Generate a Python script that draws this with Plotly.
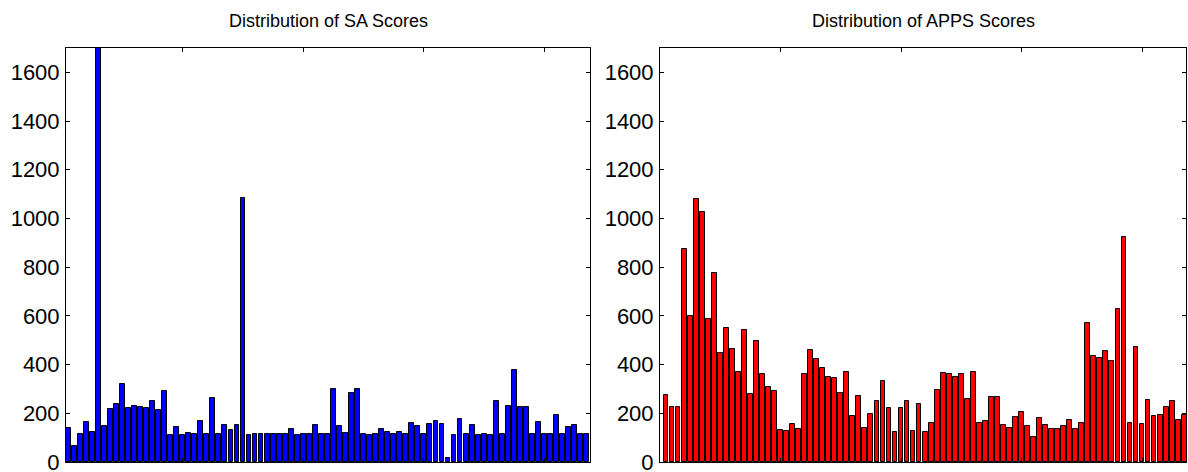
import plotly.graph_objects as go

sa_scores = [139, 67, 115, 163, 123, 1800, 148, 216, 239, 320,
             220, 230, 227, 223, 252, 213, 290, 111, 145, 111,
             119, 115, 167, 115, 263, 113, 154, 131, 154, 1083,
             112, 115, 115, 115, 115, 114, 114, 137, 112, 116,
             115, 153, 114, 114, 300, 148, 119, 283, 298, 115,
             112, 114, 137, 123, 115, 124, 115, 161, 149, 115,
             158, 169, 157, 16, 112, 176, 115, 153, 112, 114,
             112, 249, 114, 231, 379, 226, 224, 114, 165, 115,
             116, 194, 116, 143, 153, 115, 114]

apps_scores = [274, 227, 227, 876, 598, 1079, 1025, 588, 777, 446,
               551, 464, 370, 544, 279, 496, 363, 307, 292, 131,
               128, 157, 137, 362, 460, 423, 385, 348, 345, 285,
               368, 187, 271, 138, 197, 250, 331, 222, 124, 222,
               250, 128, 237, 123, 161, 296, 364, 360, 349, 362,
               259, 370, 161, 167, 265, 265, 152, 138, 183, 204,
               148, 104, 179, 154, 137, 134, 149, 172, 137, 160,
               569, 436, 426, 457, 413, 630, 925, 161, 474, 158,
               255, 190, 193, 224, 252, 171, 194]

sa_x = list(range(1, len(sa_scores) + 1))
apps_x = list(range(1, len(apps_scores) + 1))

y_ticks = [0, 200, 400, 600, 800, 1000, 1200, 1400, 1600]
x_ticks = [20, 40, 60, 80]
titles = ["Distribution of SA Scores", "Distribution of APPS Scores"]

W, H = 1188, 472
FONT = "Liberation Sans, Arial, Helvetica, sans-serif"

fig = go.Figure()
fig.add_trace(go.Bar(x=sa_x, y=sa_scores, width=0.8,
                     marker=dict(color="#0000FF", line=dict(color="black", width=1)),
                     xaxis="x", yaxis="y", showlegend=False))
fig.add_trace(go.Bar(x=apps_x, y=apps_scores, width=0.8,
                     marker=dict(color="#FF0000", line=dict(color="black", width=1)),
                     xaxis="x2", yaxis="y2", showlegend=False))

ytop = (H - 48) / H
ybot = (H - 462) / H
dom1 = [66 / W, 590 / W]
dom2 = [660 / W, 1186 / W]

common_x = dict(showline=True, linecolor="black", linewidth=1, mirror="allticks",
                ticks="inside", ticklen=4, tickcolor="black", tickvals=x_ticks,
                showticklabels=False, showgrid=False, zeroline=False, automargin=False)
common_y = dict(showline=True, linecolor="black", linewidth=1, mirror="allticks",
                ticks="inside", ticklen=4, tickcolor="black", tickvals=y_ticks,
                range=[0, 1700], showgrid=False, zeroline=False, automargin=False,
                ticklabeloverflow="allow", ticklabelstandoff=1,
                tickfont=dict(family=FONT, size=22, color="black"))

fig.update_layout(
    width=W, height=H,
    margin=dict(l=0, r=0, t=0, b=0, autoexpand=False),
    paper_bgcolor="white", plot_bgcolor="white",
    bargap=0,
    xaxis=dict(domain=dom1, range=[0.65, 87.55], anchor="y", **common_x),
    yaxis=dict(domain=[ybot, ytop], anchor="x", **common_y),
    xaxis2=dict(domain=dom2, range=[0.0, 87.3], anchor="y2", **common_x),
    yaxis2=dict(domain=[ybot, ytop], anchor="x2", **common_y),
    annotations=[
        dict(text=titles[0], x=(dom1[0] + dom1[1]) / 2, y=(H - 21) / H, xref="paper", yref="paper",
             xanchor="center", yanchor="middle", showarrow=False,
             font=dict(family=FONT, size=18, color="black")),
        dict(text=titles[1], x=(dom2[0] + dom2[1]) / 2, y=(H - 21) / H, xref="paper", yref="paper",
             xanchor="center", yanchor="middle", showarrow=False,
             font=dict(family=FONT, size=18, color="black")),
    ],
)

fig.write_html("out.html")
